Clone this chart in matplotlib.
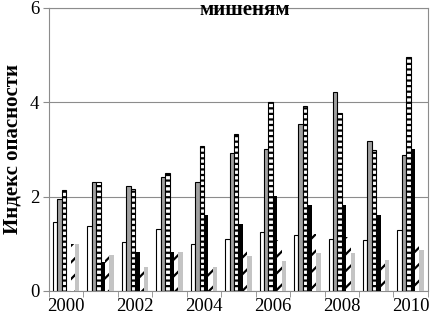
import numpy as np
import matplotlib.pyplot as plt

plt.rcParams["font.family"] = ["Liberation Serif", "DejaVu Serif"]
plt.rcParams["hatch.linewidth"] = 1.6

years = [2000, 2001, 2002, 2003, 2004, 2005, 2006, 2007, 2008, 2009, 2010]
s_white = [1.46, 1.38, 1.04, 1.31, 1.00, 1.10, 1.25, 1.18, 1.10, 1.08, 1.29]
s_gray = [1.95, 2.30, 2.22, 2.41, 2.31, 2.92, 3.00, 3.55, 4.22, 3.18, 2.88]
s_ladder = [2.14, 2.30, 2.16, 2.50, 3.07, 3.32, 4.00, 3.93, 3.77, 2.99, 4.96]
s_black = [0.00, 0.62, 0.82, 0.83, 1.61, 1.42, 2.01, 1.82, 1.82, 1.61, 3.00]
s_diag = [1.00, 0.84, 0.55, 0.87, 0.65, 0.93, 1.08, 1.20, 1.15, 0.65, 1.08]
s_light = [1.00, 0.76, 0.51, 0.83, 0.51, 0.74, 0.64, 0.80, 0.80, 0.65, 0.87]

fig = plt.figure(figsize=(4.3, 3.2), dpi=100)
ax = fig.add_axes([0.114, 0.091, 0.881, 0.884])

x = np.arange(len(years))
w = 0.128
offs = (np.arange(6) - 2.5) * w

ax.bar(x + offs[0], s_white, w, color="white", edgecolor="black", linewidth=0.8, zorder=3)
ax.bar(x + offs[1], s_gray, w, color="#a0a0a0", edgecolor="black", linewidth=0.8, zorder=3)
ax.bar(x + offs[2], s_ladder, w, color="white", edgecolor="black", linewidth=0.8,
       hatch="---", zorder=3)
ax.bar(x + offs[3], s_black, w, color="black", linewidth=0, zorder=3)
ax.bar(x + offs[4], s_diag, w, color="white", edgecolor="black", linewidth=0,
       hatch="//", zorder=3)
ax.bar(x + offs[5], s_light, w, color="#c4c4c4", linewidth=0, zorder=3)

ax.set_xlim(-0.5, len(years) - 0.5)
ax.set_ylim(0, 6)
ax.set_yticks([0, 2, 4, 6])
ax.yaxis.grid(True, color="#8c8c8c", linewidth=0.8, zorder=0)

ax.set_xticks(x[::2])
ax.set_xticklabels([str(y) for y in years[::2]], fontsize=13.5)
ax.set_xticks(np.arange(len(years) + 1) - 0.5, minor=True)
ax.tick_params(axis="x", which="major", length=0, pad=5)
ax.tick_params(axis="x", which="minor", length=4, color="#8c8c8c", direction="out")
ax.tick_params(axis="y", length=4, color="#8c8c8c", labelsize=13.5, pad=3)

for side in ["left", "bottom", "right", "top"]:
    ax.spines[side].set_color("#8c8c8c")
    ax.spines[side].set_linewidth(0.8)

ax.set_ylabel("Индекс опасности", fontsize=15, fontweight="bold", labelpad=5)
fig.text(0.57, 0.97, "мишеням", ha="center", va="center", fontsize=15, fontweight="bold")

plt.savefig("out.png", dpi=100)
